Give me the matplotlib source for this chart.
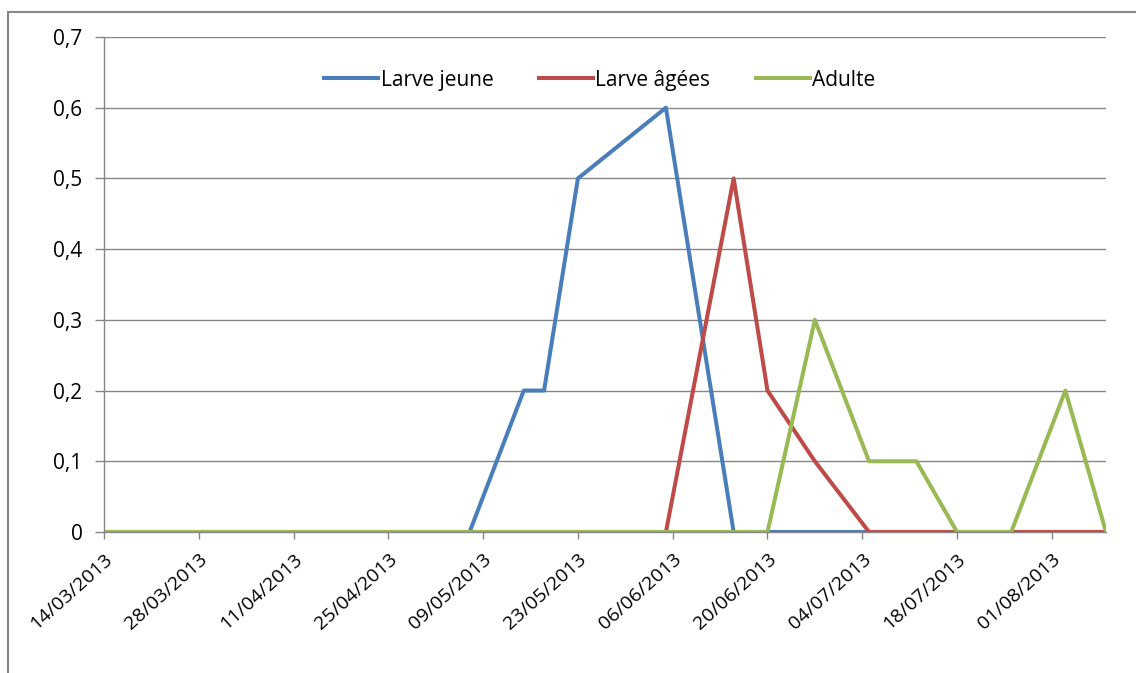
import matplotlib
matplotlib.use("Agg")
import matplotlib.pyplot as plt
import matplotlib.dates as mdates
from matplotlib.patches import Rectangle
import pandas as pd

plt.rcParams['font.family'] = ['Open Sans', 'DejaVu Sans']

# dates d'échantillonnage
dates = pd.to_datetime([
    "14/03/2013", "28/03/2013", "11/04/2013", "25/04/2013", "07/05/2013",
    "15/05/2013", "18/05/2013", "23/05/2013", "05/06/2013", "15/06/2013",
    "20/06/2013", "27/06/2013", "05/07/2013", "12/07/2013", "18/07/2013",
    "26/07/2013", "03/08/2013", "09/08/2013"], dayfirst=True)

larve_jeune = [0, 0, 0, 0, 0, 0.2, 0.2, 0.5, 0.6, 0, 0, 0, 0, 0, 0, 0, 0, 0]
larve_agees = [0, 0, 0, 0, 0, 0, 0, 0, 0, 0.5, 0.2, 0.1, 0, 0, 0, 0, 0, 0]
adulte      = [0, 0, 0, 0, 0, 0, 0, 0, 0, 0, 0, 0.3, 0.1, 0.1, 0, 0, 0.2, 0]

tick_dates = pd.date_range("2013-03-14", periods=11, freq="14D")
y_ticks = [0, 0.1, 0.2, 0.3, 0.4, 0.5, 0.6, 0.7]

fig = plt.figure(figsize=(11.36, 6.73), dpi=100)
ax = fig.add_axes([104 / 1136, 141 / 673, 1002 / 1136, 495 / 673])

ax.plot(dates, larve_jeune, color="#4A7EBB", lw=2.9, label="Larve jeune")
ax.plot(dates, larve_agees, color="#BE4B48", lw=2.9, label="Larve âgées")
ax.plot(dates, adulte, color="#98B954", lw=2.9, label="Adulte")

ax.set_xlim(dates[0], dates[-1])
ax.set_ylim(0, 0.7)
ax.set_yticks(y_ticks)
ax.set_yticklabels([f"{v:.1f}".replace(".", ",") if v else "0" for v in y_ticks])
ax.set_xticks(tick_dates)
ax.xaxis.set_major_formatter(mdates.DateFormatter("%d/%m/%Y"))

ax.grid(axis="y", color="#868686", lw=1)
ax.set_axisbelow(True)
for s in ["top", "right"]:
    ax.spines[s].set_visible(False)
for s in ["left", "bottom"]:
    ax.spines[s].set_color("#868686")
    ax.spines[s].set_linewidth(1)

ax.tick_params(axis="y", length=6.5, width=1, color="#868686", pad=9, labelsize=15)
ax.tick_params(axis="x", length=5, width=1, color="#868686", pad=8, labelsize=14)
for lab in ax.get_xticklabels():
    lab.set_rotation(42)
    lab.set_ha("right")
    lab.set_va("top")
    lab.set_rotation_mode("anchor")

ax.legend(loc="center", bbox_to_anchor=(0.495, 0.913), ncol=3, frameon=False,
          fontsize=15, handlelength=2.6, handletextpad=0.1, columnspacing=2.2)

fig.patches.append(Rectangle((8 / 1136, -0.1), 1.2, (673 - 12) / 673 + 0.1,
                             transform=fig.transFigure, fill=False,
                             edgecolor="#888888", lw=1.5))

fig.savefig("out.png", dpi=100)
